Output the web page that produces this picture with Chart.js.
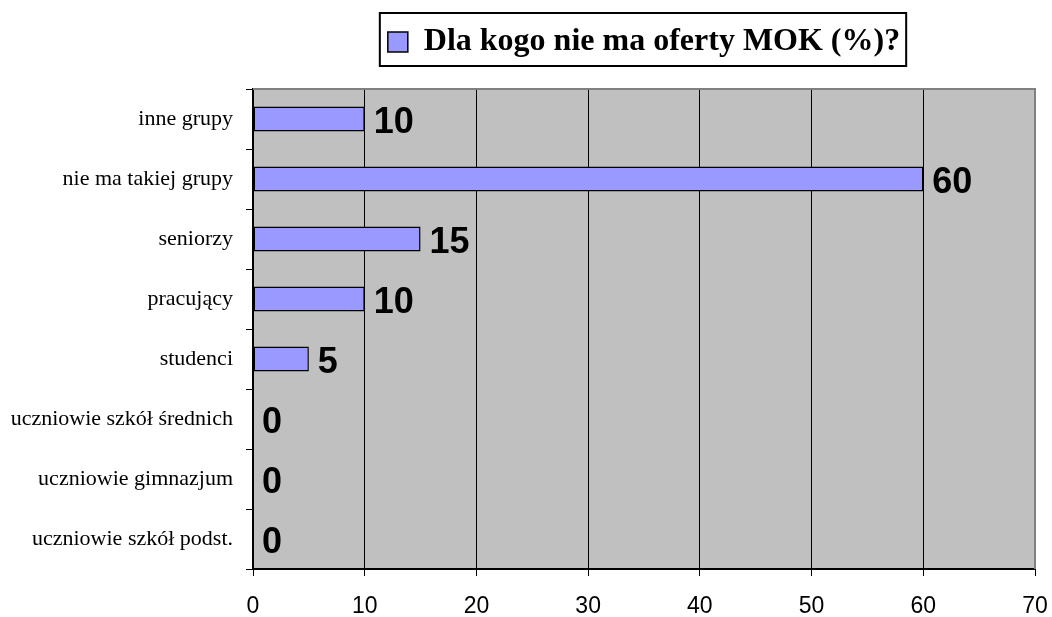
<!DOCTYPE html>
<html>
<head>
<meta charset="utf-8">
<script src="https://cdn.jsdelivr.net/npm/chart.js@4"></script>
<style>
  html, body { margin: 0; padding: 0; background: #fff; }
  #wrap { width: 1052px; height: 617px; position: relative; }
</style>
</head>
<body>
<div id="wrap"><canvas id="chart"></canvas></div>
<script>
const CATEGORIES = [
    'inne grupy',
    'nie ma takiej grupy',
    'seniorzy',
    'pracujący',
    'studenci',
    'uczniowie szkół średnich',
    'uczniowie gimnazjum',
    'uczniowie szkół podst.',
];
const VALUES = [10, 60, 15, 10, 5, 0, 0, 0];
const SERIES_LABEL = 'Dla kogo nie ma oferty MOK (%)?';
const X_MIN = 0;
const X_MAX = 70;
const X_STEP = 10;

// grey plot area like the old office charts
const plotBackground = {
    id: 'plotBackground',
    beforeDraw(chart) {
        const { ctx, chartArea: a } = chart;
        ctx.save();
        ctx.fillStyle = '#C0C0C0';
        ctx.fillRect(a.left, a.top, a.right - a.left, a.bottom - a.top);
        ctx.restore();
    },
    beforeDatasetsDraw(chart) {
        const { ctx, chartArea: a } = chart;
        ctx.save();
        ctx.strokeStyle = '#808080';
        ctx.lineWidth = 2;
        ctx.beginPath();
        ctx.moveTo(a.left, a.top);
        ctx.lineTo(a.right, a.top);
        ctx.lineTo(a.right, a.bottom);
        ctx.stroke();
        ctx.restore();
    }
};

// extra space between legend and plot
const legendGap = {
    id: 'legendGap',
    beforeInit(chart) {
        const fit = chart.legend.fit;
        chart.legend.fit = function () {
            fit.bind(chart.legend)();
            this.height += 21;
        };
    }
};

// frame round the legend
const legendFrame = {
    id: 'legendFrame',
    afterDraw(chart) {
        const box = chart.legend.legendHitBoxes[0];
        if (!box) return;
        const { ctx } = chart;
        ctx.save();
        ctx.strokeStyle = '#000';
        ctx.lineWidth = 2;
        ctx.strokeRect(box.left - 8, box.top - 13, box.width + 14, box.height + 21);
        ctx.restore();
    }
};

const valueLabels = {
    id: 'valueLabels',
    afterDatasetsDraw(chart) {
        const { ctx } = chart;
        const meta = chart.getDatasetMeta(0);
        ctx.save();
        ctx.font = 'bold 36px "Liberation Sans", Arial, sans-serif';
        ctx.fillStyle = '#000';
        ctx.textAlign = 'left';
        ctx.textBaseline = 'alphabetic';
        meta.data.forEach((bar, i) => {
            ctx.fillText(String(VALUES[i]), bar.x + 9, bar.y + 13.5);
        });
        ctx.restore();
    }
};

new Chart(document.getElementById('chart'), {
    type: 'bar',
    data: {
        labels: CATEGORIES,
        datasets: [{
            label: SERIES_LABEL,
            data: VALUES,
            backgroundColor: '#9999FF',
            borderColor: '#000',
            borderWidth: 1.5,
            borderSkipped: false,
            barPercentage: 0.415,
            categoryPercentage: 1,
        }]
    },
    options: {
        indexAxis: 'y',
        responsive: true,
        maintainAspectRatio: false,
        animation: false,
        layout: { padding: { top: 0, right: 17, bottom: 0, left: 0 } },
        scales: {
            x: {
                min: X_MIN,
                max: X_MAX,
                ticks: {
                    stepSize: X_STEP,
                    color: '#000',
                    padding: 17,
                    font: { family: '"Liberation Sans", Arial, sans-serif', size: 23 },
                },
                grid: {
                    color: ctx => ctx.tick && ctx.tick.value === X_MAX ? '#808080' : '#000',
                    tickColor: '#000',
                    lineWidth: 1,
                    tickLength: 7,
                },
                border: { color: '#000', width: 2 },
                afterFit(scale) {
                    scale.height = 48;
                    scale.paddingLeft = 0;
                    scale.paddingRight = 0;
                },
            },
            y: {
                ticks: {
                    color: '#000',
                    padding: 13,
                    font: { family: '"Liberation Serif", "Times New Roman", serif', size: 22 },
                },
                grid: {
                    offset: true,
                    drawOnChartArea: false,
                    tickColor: '#000',
                    tickLength: 7,
                },
                border: { color: '#000', width: 2 },
                afterFit(scale) { scale.width = 253; },
            },
        },
        plugins: {
            legend: {
                position: 'top',
                fullSize: false,
                labels: {
                    color: '#000',
                    boxWidth: 20,
                    boxHeight: 20,
                    padding: 26,
                    font: { family: '"Liberation Serif", "Times New Roman", serif', size: 32, weight: 'bold' },
                },
            },
            tooltip: { enabled: false },
        },
    },
    plugins: [plotBackground, legendGap, legendFrame, valueLabels],
});
</script>
</body>
</html>
